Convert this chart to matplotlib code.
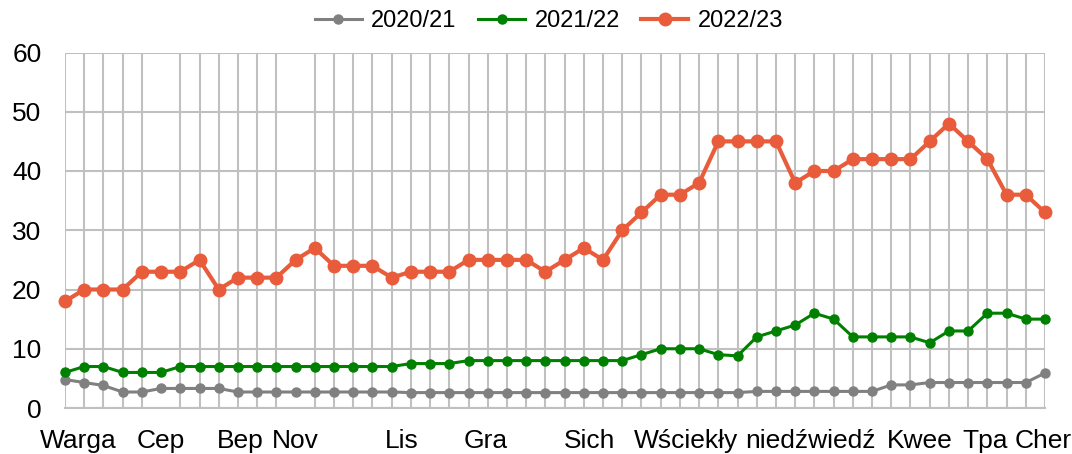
import matplotlib
matplotlib.use("Agg")
import matplotlib.pyplot as plt
from matplotlib import font_manager
import numpy as np

# ---- data ----
series_names = ["2020/21", "2021/22", "2022/23"]
s2020 = [4.8, 4.3, 3.8, 2.7, 2.7, 3.3, 3.3, 3.3, 3.3,
         2.7, 2.7, 2.7, 2.7, 2.7, 2.7, 2.7, 2.7, 2.7,
         2.6, 2.6, 2.6, 2.6, 2.6, 2.6, 2.6, 2.6, 2.6,
         2.6, 2.6, 2.6, 2.6, 2.6, 2.6, 2.6, 2.6, 2.6,
         2.8, 2.8, 2.8, 2.8, 2.8, 2.8, 2.8,
         3.9, 3.9, 4.3, 4.3, 4.3, 4.3, 4.3, 4.3, 5.9]
s2021 = [6, 7, 7, 6, 6, 6,
         7, 7, 7, 7, 7, 7, 7, 7, 7, 7, 7, 7,
         7.5, 7.5, 7.5,
         8, 8, 8, 8, 8, 8, 8, 8, 8,
         9, 10, 10, 10, 9, 8.8, 12, 13, 14, 16, 15,
         12, 12, 12, 12, 11, 13, 13, 16, 16, 15, 15]
s2022 = [18, 20, 20, 20, 23, 23, 23, 25, 20, 22, 22, 22, 25, 27, 24, 24, 24, 22,
         23, 23, 23, 25, 25, 25, 25, 23, 25, 27, 25, 30, 33, 36, 36, 38, 45, 45,
         45, 45, 38, 40, 40, 42, 42, 42, 42, 45, 48, 45, 42, 36, 36, 33]
month_labels = ["Warga", "Cep", "Bep", "Nov", "Lis", "Gra", "Sich",
                "Wściekły", "niedźwiedź", "Kwee", "Tpa", "Cher"]
label_pos = [0.7, 5.0, 9.1, 12.0, 17.5, 21.9, 27.3, 32.3, 38.8, 44.5, 47.9, 50.9]
yticks = [0, 10, 20, 30, 40, 50, 60]

# ---- style ----
names = {f.name for f in font_manager.fontManager.ttflist}
base_font = "Liberation Sans" if "Liberation Sans" in names else "DejaVu Sans"
plt.rcParams["font.family"] = [base_font, "DejaVu Sans"]

grid_col = "#C0C0C0"
cols = ["#808080", "#008000", "#E95C3B"]

fig = plt.figure(figsize=(10.72, 4.54), dpi=100)
ax = fig.add_axes([65 / 1072, 1 - 408 / 454, (1045 - 65) / 1072, (408 - 52.5) / 454])

x = np.arange(len(s2022))
ax.plot(x, s2020, color=cols[0], lw=2.2, marker="o", ms=6.5, label=series_names[0],
        clip_on=False, zorder=3)
ax.plot(x, s2021, color=cols[1], lw=2.2, marker="o", ms=6.5, label=series_names[1],
        clip_on=False, zorder=4)
ax.plot(x, s2022, color=cols[2], lw=3.0, marker="o", ms=9, label=series_names[2],
        clip_on=False, zorder=5)

ax.set_xlim(0, len(s2022) - 1)
ax.set_ylim(0, 60)

ax.set_xticks(x, minor=True)
ax.set_xticks(label_pos)
ax.set_xticklabels(month_labels, fontsize=19)
ax.set_yticks(yticks)
ax.set_yticklabels([str(v) for v in yticks], fontsize=19)
ax.tick_params(axis="x", which="both", length=0, pad=15)
ax.tick_params(axis="y", length=0, pad=17)
ax.grid(True, axis="x", which="minor", color=grid_col, lw=1.5, zorder=0)
ax.grid(True, axis="y", which="major", color=grid_col, lw=1.5, zorder=0)
ax.grid(False, axis="x", which="major")
for sp in ["top", "right", "left"]:
    ax.spines[sp].set_visible(False)
ax.spines["bottom"].set_color(grid_col)
ax.spines["bottom"].set_linewidth(1.5)
ax.set_axisbelow(True)

handles, labels = ax.get_legend_handles_labels()
fig.legend(handles, labels, loc="center", bbox_to_anchor=(549 / 1072, 1 - 21 / 454),
           ncol=3, frameon=False, handlelength=2.0, handletextpad=0.4,
           columnspacing=0.9, prop={"size": 17})

fig.savefig("out.png", dpi=100)
